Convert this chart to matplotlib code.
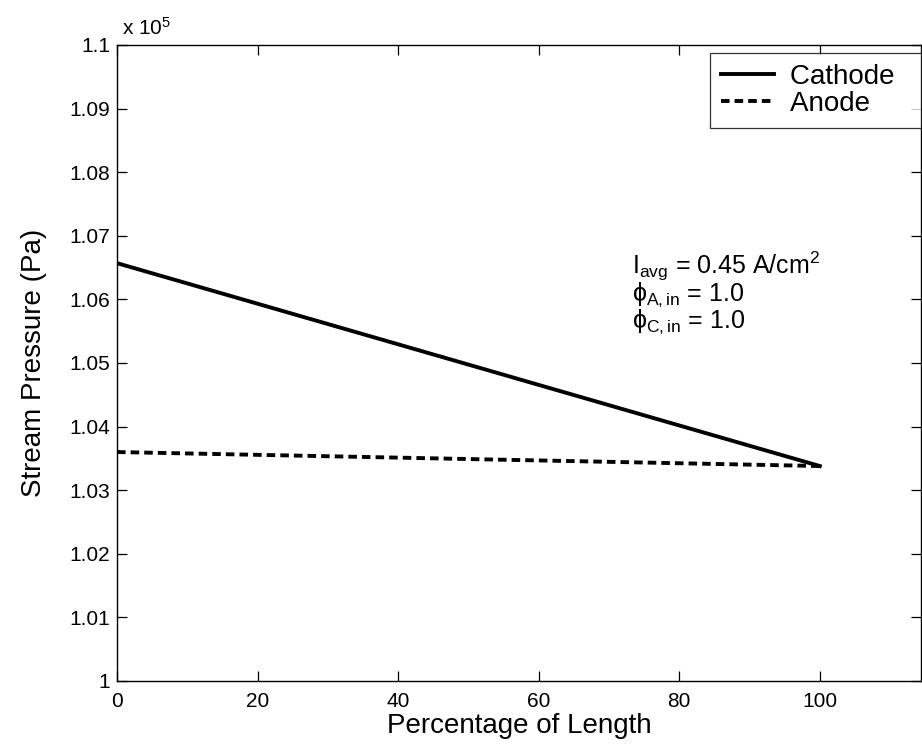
import matplotlib.pyplot as plt
import matplotlib.ticker as mticker
import numpy as np

plt.rcParams['font.family'] = ['Liberation Sans', 'DejaVu Sans']
plt.rcParams['mathtext.fontset'] = 'custom'
plt.rcParams['mathtext.rm'] = 'Liberation Sans'
plt.rcParams['mathtext.it'] = 'Liberation Sans'

# percentage of channel length
length_pct = [0, 100]
# stream pressure along the channel (Pa)
cathode_p = [106570, 103380]
anode_p = [103600, 103380]

W, H = 922, 750
fig = plt.figure(figsize=(W / 100, H / 100), dpi=100)
ax = fig.add_axes([117 / W, 1 - 681 / H, (921 - 117) / W, (681 - 45) / H])

ax.plot(length_pct, cathode_p, color='k', lw=2.8, linestyle='-', label='Cathode  ')
ax.plot(length_pct, anode_p, color='k', lw=2.8, linestyle=(0, (2.2, 1.3)), label='Anode  ')

ax.set_xlim(0, 114.4)
ax.set_ylim(1.0e5, 1.1e5)
ax.set_xticks(np.arange(0, 101, 20))
ax.set_yticks(np.arange(1.0e5, 1.1e5 + 1, 1000))
ax.yaxis.set_major_formatter(mticker.FuncFormatter(lambda v, p: '%g' % round(v / 1e5, 2)))

ax.tick_params(direction='in', top=True, right=True, length=7, width=0.9,
               labelsize=15, pad=5)
ax.tick_params(axis='x', pad=8)
for s in ax.spines.values():
    s.set_linewidth(1.0)

ax.set_xlabel('Percentage of Length', fontsize=20)
ax.xaxis.set_label_coords(0.5, -0.05)
ax.set_ylabel('Stream Pressure (Pa)', fontsize=20)
ax.yaxis.set_label_coords(-0.087, 0.5)

# exponent label above y axis
ax.text(5 / 804, 1 + 10 / 636, r'x 10$^5$', transform=ax.transAxes, fontsize=15,
        ha='left', va='baseline')


def px_to_y(py):
    return 1e5 + (681 - py) / 636 * 1e4


ax.text(73.3, px_to_y(274), r'I$_{\mathregular{avg}}$ = 0.45 A/cm$^2$',
        fontsize=18, ha='left', va='baseline')
ax.text(73.3, px_to_y(301), r'$\phi_{\mathregular{A,in}}$ = 1.0',
        fontsize=18, ha='left', va='baseline')
ax.text(73.3, px_to_y(328), r'$\phi_{\mathregular{C,in}}$ = 1.0',
        fontsize=18, ha='left', va='baseline')

leg = ax.legend(loc='upper right', bbox_to_anchor=(921 / W, 1 - 53 / H),
                bbox_transform=fig.transFigure, fontsize=20, frameon=True,
                fancybox=False, edgecolor='k', handlelength=1.9,
                borderaxespad=0, borderpad=0.39, labelspacing=0.05,
                handletextpad=0.6)
leg.get_frame().set_linewidth(0.9)

fig.savefig('out.png', dpi=100)
